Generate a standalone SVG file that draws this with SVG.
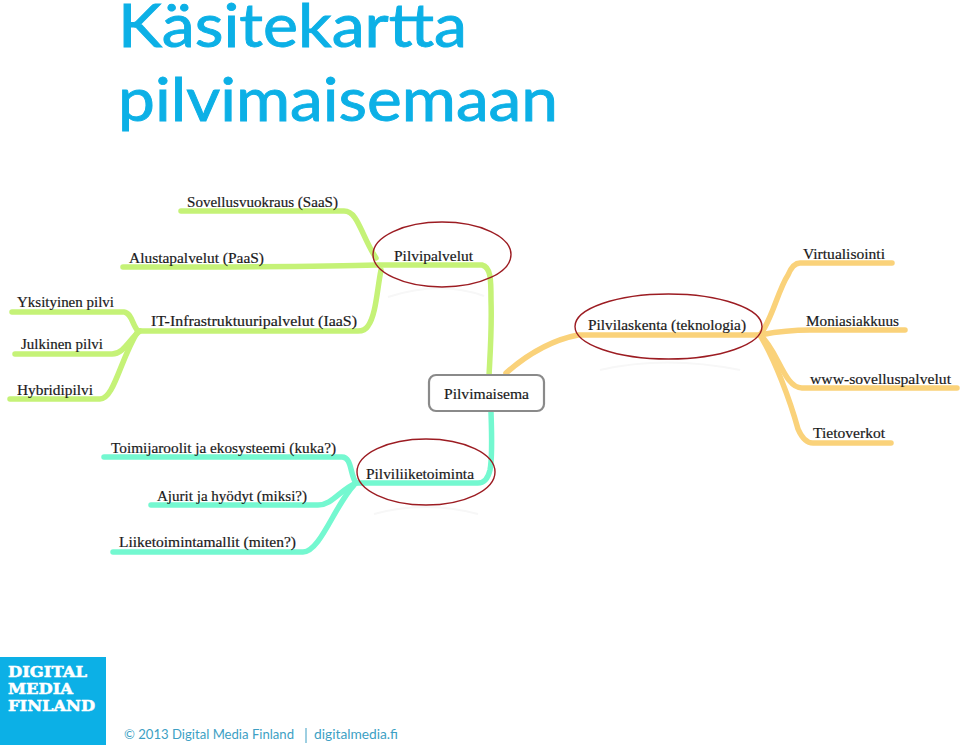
<svg xmlns="http://www.w3.org/2000/svg" width="960" height="746" viewBox="0 0 960 746">
<style>
text{white-space:pre}
.t{font-family:"Liberation Serif","DejaVu Serif",serif;fill:#1a1a1a;font-size:15.5px;stroke:#1a1a1a;stroke-width:.2px}
.c{fill:none;stroke-width:5.5;stroke-linecap:round;stroke-linejoin:round}
.g{stroke:#c5f277}.o{stroke:#fad27a}.m{stroke:#74f8d0}
.e{fill:none;stroke:#9c1c22;stroke-width:1.4}
.r{fill:none;stroke:#f7f7f7;stroke-width:2}
.h{font-family:"Lato","Open Sans",sans-serif;fill:#0cb0e6;stroke:#0cb0e6;stroke-width:.9px;font-size:60px;font-weight:400}
.f{font-family:"Lato","Open Sans",sans-serif;fill:#3d9fc4;font-size:14px}
.l{font-family:"DejaVu Serif",serif;font-weight:700;fill:#fff;stroke:#fff;stroke-width:.5px;font-size:14.5px}
</style>
<rect width="960" height="746" fill="#fff"/>
<text class="h" x="118" y="47" textLength="349" lengthAdjust="spacingAndGlyphs">Käsitekartta</text>
<text class="h" x="118" y="121" textLength="440" lengthAdjust="spacingAndGlyphs">pilvimaisemaan</text>
<g id="connectors">
<path class="c g" d="M181 211H344C358 211 361 235 376 258"/>
<path class="c g" d="M123 267C220 267 320 267 376 265H482C491 267 491 280 491 300C492 330 490 355 489 376"/>
<path class="c g" d="M381 270C377 290 376 315 368 326Q365 331 358 331H140"/>
<path class="c g" d="M12 312H124C132 313 132 325 138 331"/>
<path class="c g" d="M15 354H112C124 354 130 338 140 331"/>
<path class="c g" d="M10 399H100C114 399 120 360 138 331"/>
<path class="c o" d="M506 373C530 352 552 340 578 335H760"/>
<path class="c o" d="M760 335C772 320 778 290 788 275Q793 263 800 263H892"/>
<path class="c o" d="M760 335C780 331 790 330 810 330H905"/>
<path class="c o" d="M760 335C778 350 784 388 802 388H957"/>
<path class="c o" d="M760 335C775 360 790 400 798 429Q804 443 813 443H891"/>
<path class="c m" d="M491 412C492 440 492 460 490 470Q487 483 478 483H356"/>
<path class="c m" d="M104 457H342C352 457 350 475 356 483"/>
<path class="c m" d="M151 505H318C332 505 340 490 356 483"/>
<path class="c m" d="M113 552H303C320 552 335 505 354 485"/>
</g>
<path class="r" d="M388 297Q440 280 484 296"/>
<path class="r" d="M600 370Q665 355 740 370"/>
<path class="r" d="M374 514Q425 500 478 514"/>
<g id="n-pilvimaisema"><rect x="429" y="375" width="115" height="36" rx="7" fill="#fff" stroke="#8a8a8a" stroke-width="2.2"/><text class="t" x="444" y="399" textLength="85" lengthAdjust="spacingAndGlyphs">Pilvimaisema</text></g>
<g id="n-pilvipalvelut"><ellipse cx="442" cy="254.500" rx="69" ry="32.500" class="e"/><text class="t" x="394" y="261" textLength="79" lengthAdjust="spacingAndGlyphs">Pilvipalvelut</text></g>
<g id="n-pilvilaskenta"><ellipse cx="668.500" cy="326.500" rx="93.500" ry="32.500" class="e"/><text class="t" x="588" y="330" textLength="158" lengthAdjust="spacingAndGlyphs">Pilvilaskenta (teknologia)</text></g>
<g id="n-pilviliiketoiminta"><ellipse cx="426" cy="472" rx="69" ry="33" class="e"/><text class="t" x="366" y="479" textLength="108" lengthAdjust="spacingAndGlyphs">Pilviliiketoiminta</text></g>
<g id="n-saas"><text class="t" x="187" y="207" textLength="151" lengthAdjust="spacingAndGlyphs">Sovellusvuokraus (SaaS)</text></g>
<g id="n-paas"><text class="t" x="129" y="263" textLength="135" lengthAdjust="spacingAndGlyphs">Alustapalvelut (PaaS)</text></g>
<g id="n-iaas"><text class="t" x="151" y="326" textLength="206" lengthAdjust="spacingAndGlyphs">IT-Infrastruktuuripalvelut (IaaS)</text></g>
<g id="n-yksityinen"><text class="t" x="17" y="307" textLength="97" lengthAdjust="spacingAndGlyphs">Yksityinen pilvi</text></g>
<g id="n-julkinen"><text class="t" x="21" y="349" textLength="82" lengthAdjust="spacingAndGlyphs">Julkinen pilvi</text></g>
<g id="n-hybridi"><text class="t" x="17" y="395" textLength="76" lengthAdjust="spacingAndGlyphs">Hybridipilvi</text></g>
<g id="n-virtualisointi"><text class="t" x="803" y="259" textLength="82" lengthAdjust="spacingAndGlyphs">Virtualisointi</text></g>
<g id="n-moniasiakkuus"><text class="t" x="806" y="326" textLength="93" lengthAdjust="spacingAndGlyphs">Moniasiakkuus</text></g>
<g id="n-www"><text class="t" x="810" y="384" textLength="141" lengthAdjust="spacingAndGlyphs">www-sovelluspalvelut</text></g>
<g id="n-tietoverkot"><text class="t" x="813" y="438" textLength="72" lengthAdjust="spacingAndGlyphs">Tietoverkot</text></g>
<g id="n-toimijaroolit"><text class="t" x="111" y="453" textLength="225" lengthAdjust="spacingAndGlyphs">Toimijaroolit ja ekosysteemi (kuka?)</text></g>
<g id="n-ajurit"><text class="t" x="157" y="501" textLength="150" lengthAdjust="spacingAndGlyphs">Ajurit ja hyödyt (miksi?)</text></g>
<g id="n-liiketoimintamallit"><text class="t" x="119" y="547" textLength="177" lengthAdjust="spacingAndGlyphs">Liiketoimintamallit (miten?)</text></g>
<rect x="0" y="657" width="106" height="88" fill="#0cb0e6"/>
<text class="l" x="8" y="677" textLength="79" lengthAdjust="spacingAndGlyphs">DIGITAL</text>
<text class="l" x="8" y="694" textLength="65" lengthAdjust="spacingAndGlyphs">MEDIA</text>
<text class="l" x="8" y="711" textLength="87" lengthAdjust="spacingAndGlyphs">FINLAND</text>
<text class="f" x="124" y="739" textLength="170" lengthAdjust="spacingAndGlyphs">© 2013 Digital Media Finland</text>
<path d="M306 728V743" stroke="#3d9fc4" stroke-width="1" fill="none"/>
<text class="f" x="314" y="739" textLength="84" lengthAdjust="spacingAndGlyphs">digitalmedia.fi</text>
</svg>
